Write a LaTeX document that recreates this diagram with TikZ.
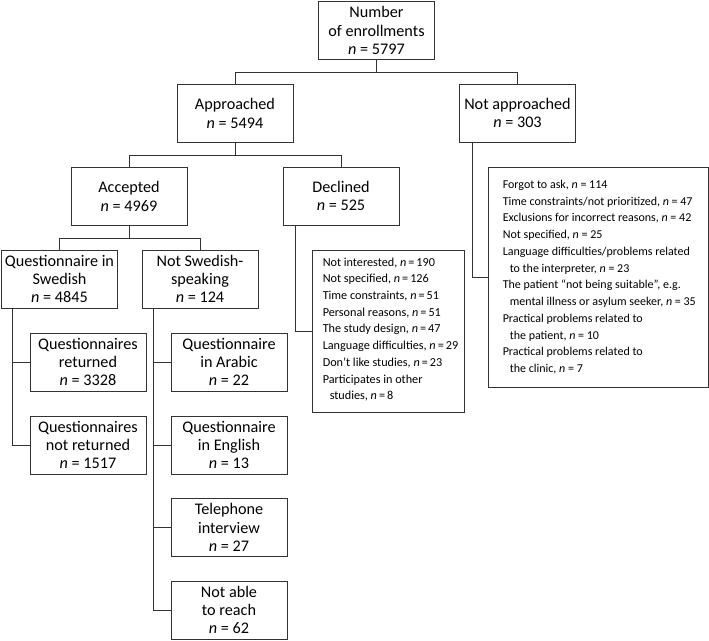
\documentclass[tikz,border=0pt]{standalone}
\usepackage{fontspec}
\setmainfont{Carlito}
\begin{document}
\tikzset{
  box/.style={draw=black!80, line width=0.9pt, minimum width=116pt, minimum height=58pt,
    align=center, inner sep=2pt, font=\fontsize{16.2}{18.2}\selectfont},
  listbox/.style={draw=black!80, line width=0.9pt, inner sep=0pt},
  listtext/.style={anchor=west, align=left, inner sep=0pt},
  conn/.style={draw=black!80, line width=0.9pt},
}
\newcommand{\nn}{\textit{n}}
\newcommand{\ind}{\hspace*{7pt}}
\begin{tikzpicture}[x=1pt,y=-1pt]
\useasboundingbox (0,0) rectangle (709,640);
% main boxes
\node[box] (top) at (376.5,30.5) {Number\\of enrollments\\\nn{} = 5797};
\node[box] (appr) at (235,113.5) {Approached\\\nn{} = 5494};
\node[box] (na) at (517.5,113) {Not approached\\\nn{} = 303};
\node[box] (acc) at (129,196.5) {Accepted\\\nn{} = 4969};
\node[box] (dec) at (341,196) {Declined\\\nn{} = 525};
\node[box] (swe) at (59.5,279) {Questionnaire in\\Swedish\\\nn{} = 4845};
\node[box] (nsw) at (200,279) {Not Swedish-\\speaking\\\nn{} = 124};
\node[box] (qret) at (88,362) {Questionnaires\\returned\\\nn{} = 3328};
\node[box] (qnot) at (88,445) {Questionnaires\\not returned\\\nn{} = 1517};
\node[box] (ara) at (229,362) {Questionnaire\\in Arabic\\\nn{} = 22};
\node[box] (eng) at (229,445) {Questionnaire\\in English\\\nn{} = 13};
\node[box] (tel) at (229,527.5) {Telephone\\interview\\\nn{} = 27};
\node[box] (reach) at (229,610) {Not able\\to reach\\\nn{} = 62};
% list boxes
\node[listbox, minimum width=152pt, minimum height=162pt] (declist) at (388,331) {};
\node[listtext, font=\fontsize{12.2}{16.7}\selectfont] (dectext) at ([xshift=11pt,yshift=1.5pt]declist.west) {%
Not interested, \nn{}\,=\,190\\
Not specified, \nn{}\,=\,126\\
Time constraints, \nn{}\,=\,51\\
Personal reasons, \nn{}\,=\,51\\
The study design, \nn{}\,=\,47\\
Language difficulties, \nn{}\,=\,29\\
Don’t like studies, \nn{}\,=\,23\\
Participates in other\\
\ind studies, \nn{}\,=\,8};
\node[listbox, minimum width=220pt, minimum height=220pt] (nalist) at (598,277) {};
\node[listtext, font=\fontsize{12}{16.75}\selectfont] (natext) at ([xshift=15pt]nalist.west) {%
Forgot to ask, \nn{} = 114\\
Time constraints/not prioritized, \nn{} = 47\\
Exclusions for incorrect reasons, \nn{} = 42\\
Not specified, \nn{} = 25\\
Language difficulties/problems related\\
\ind to the interpreter, \nn{} = 23\\
The patient “not being suitable”, e.g.\\
\ind mental illness or asylum seeker, \nn{} = 35\\
Practical problems related to\\
\ind the patient, \nn{} = 10\\
Practical problems related to\\
\ind the clinic, \nn{} = 7};
% connectors
\draw[conn] (top.south) -- ++(0,12) -| (appr.north);
\draw[conn] (top.south) -- ++(0,12) -| (na.north);
\draw[conn] (appr.south) -- ++(0,12) -| (acc.north);
\draw[conn] (appr.south) -- ++(0,12) -| (dec.north);
\draw[conn] (acc.south) -- ++(0,12) -| (swe.north);
\draw[conn] (acc.south) -- ++(0,12) -| (nsw.north);
\coordinate (sv) at (12,308);
\draw[conn] (sv) |- (qnot.west);
\draw[conn] (sv |- qret.west) -- (qret.west);
\coordinate (nv) at (153,308);
\draw[conn] (nv) |- (reach.west);
\draw[conn] (nv |- ara.west) -- (ara.west);
\draw[conn] (nv |- eng.west) -- (eng.west);
\draw[conn] (nv |- tel.west) -- (tel.west);
\coordinate (dv) at (295,225);
\draw[conn] (dv) |- (declist.west);
\coordinate (nav) at (472,142);
\draw[conn] (nav) |- (nalist.west);
\end{tikzpicture}
\end{document}
